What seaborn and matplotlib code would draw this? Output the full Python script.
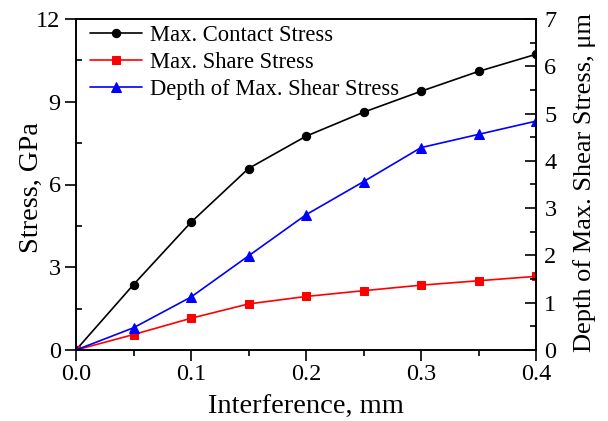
import numpy as np
import pandas as pd
import matplotlib
matplotlib.use("Agg")
import matplotlib.pyplot as plt
import seaborn as sns
from matplotlib.ticker import MultipleLocator

interference = [0.0, 0.05, 0.10, 0.15, 0.20, 0.25, 0.30, 0.35, 0.40]
contact_stress = [0.0, 2.37, 4.63, 6.58, 7.75, 8.62, 9.38, 10.10, 10.72]
shear_stress = [0.0, 0.56, 1.15, 1.67, 1.94, 2.15, 2.35, 2.51, 2.67]
shear_depth = [0.0, 0.47, 1.12, 1.99, 2.86, 3.56, 4.28, 4.56, 4.84]

labels = ["Max. Contact Stress", "Max. Share Stress", "Depth of Max. Shear Stress"]

sns.set_theme(style="ticks")
plt.rcParams["font.family"] = ["Liberation Serif", "DejaVu Serif"]
plt.rcParams["text.color"] = "black"
plt.rcParams["axes.labelcolor"] = "black"
plt.rcParams["xtick.color"] = "black"
plt.rcParams["ytick.color"] = "black"
plt.rcParams["xtick.labelcolor"] = "black"
plt.rcParams["ytick.labelcolor"] = "black"

fig = plt.figure(figsize=(6.08, 4.21), dpi=100)
ax = fig.add_axes([76/608, 1-350/421, (536-76)/608, (350-19)/421])
ax2 = ax.twinx()

df = pd.DataFrame({"x": interference, "c": contact_stress, "s": shear_stress, "d": shear_depth})

sns.lineplot(data=df, x="x", y="c", ax=ax, color="black", marker="o", markersize=6,
             markeredgecolor="black", linewidth=1.2, label=labels[0], legend=False)
sns.lineplot(data=df, x="x", y="s", ax=ax, color="red", marker="s", markersize=5.5,
             markeredgecolor="red", linewidth=1.2, label=labels[1], legend=False)
sns.lineplot(data=df, x="x", y="d", ax=ax2, color="blue", marker="^", markersize=7.5,
             markeredgecolor="blue", linewidth=1.2, label=labels[2], legend=False)

ax.set_xlim(0, 0.4)
ax.set_ylim(0, 12)
ax2.set_ylim(0, 7)
ax.xaxis.set_major_locator(MultipleLocator(0.1))
ax.xaxis.set_minor_locator(MultipleLocator(0.05))
ax.yaxis.set_major_locator(MultipleLocator(3))
ax.yaxis.set_minor_locator(MultipleLocator(1.5))
ax2.yaxis.set_major_locator(MultipleLocator(1))
ax2.yaxis.set_minor_locator(MultipleLocator(0.5))
ax.xaxis.set_major_formatter(matplotlib.ticker.FormatStrFormatter("%.1f"))

for a in (ax, ax2):
    for s in a.spines.values():
        s.set_visible(True)
        s.set_linewidth(1.2)
        s.set_color("black")

TS = 17.5
ax.tick_params(axis="x", which="major", direction="out", length=8, width=1.2, labelsize=TS, top=False, pad=2)
ax.tick_params(axis="x", which="minor", direction="out", length=4, width=1.2, top=False)
ax.tick_params(axis="y", which="major", direction="out", length=8, width=1.2, labelsize=TS, pad=3)
ax.tick_params(axis="y", which="minor", direction="in", length=4, width=1.2)
ax2.tick_params(axis="y", which="major", direction="in", length=8, width=1.2, labelsize=TS, pad=6)
ax2.tick_params(axis="y", which="minor", direction="in", length=4, width=1.2)
for a in (ax, ax2):
    a.tick_params(colors="black", labelcolor="black")

ax.set_xlabel("Interference, mm", fontsize=20.5, labelpad=7, color="black")
ax.set_ylabel("Stress, GPa", fontsize=20.5, color="black")
ax.yaxis.set_label_coords(-0.07, 0.49)
ax2.set_ylabel("Depth of Max. Shear Stress, μm", fontsize=19, color="black")
ax2.yaxis.set_label_coords(1.080, 0.505)

h1, l1 = ax.get_legend_handles_labels()
h2, l2 = ax2.get_legend_handles_labels()
leg = ax.legend(h1 + h2, l1 + l2, loc="upper left", frameon=False, fontsize=16.3,
                handlelength=2.3, handletextpad=0.35, labelspacing=0.27,
                borderaxespad=0.0, borderpad=0.0, bbox_to_anchor=(14/460, 1 - 6/331))
for t in leg.get_texts():
    t.set_color("black")

fig.savefig("out.png", dpi=100)
